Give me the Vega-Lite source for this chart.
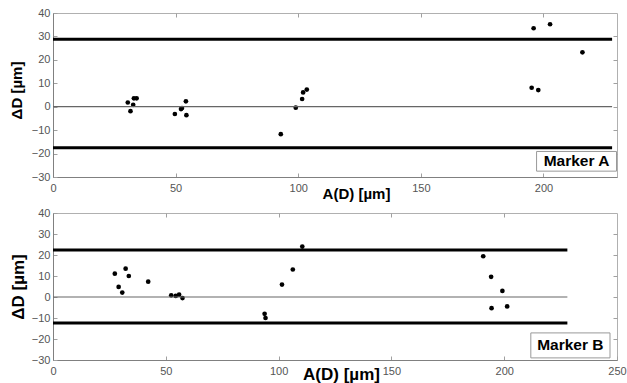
{
  "$schema": "https://vega.github.io/schema/vega-lite/v6.json",
  "background": "white",
  "padding": {"left": 8, "top": 6, "right": 0, "bottom": 0},
  "spacing": 36,
  "bounds": "flush",
  "config": {
    "view": {"stroke": "#b0b0b0", "strokeWidth": 1},
    "font": "Liberation Sans",
    "axis": {
      "labelFont": "Liberation Sans",
      "labelFontSize": 11,
      "labelColor": "#555555",
      "labelOverlap": false,
      "labelFlush": false,
      "domainColor": "#808080",
      "tickColor": "#a0a0a0",
      "tickSize": -4,
      "grid": false,
      "titleFont": "Liberation Sans",
      "titleFontSize": 15,
      "titleFontWeight": "bold",
      "titleColor": "#000000"
    },
    "axisX": {"labelPadding": 9},
    "axisY": {"labelPadding": 7}
  },
  "datasets": {
    "pts": [
      {"m": "A", "a": 30.5, "d": 1.8},
      {"m": "A", "a": 31.6, "d": -1.9},
      {"m": "A", "a": 32.7, "d": 0.8},
      {"m": "A", "a": 33.0, "d": 3.6},
      {"m": "A", "a": 34.1, "d": 3.6},
      {"m": "A", "a": 49.7, "d": -3.1},
      {"m": "A", "a": 52.2, "d": -1.0},
      {"m": "A", "a": 52.6, "d": -0.6},
      {"m": "A", "a": 54.2, "d": 2.3},
      {"m": "A", "a": 54.4, "d": -3.6},
      {"m": "A", "a": 92.9, "d": -11.7},
      {"m": "A", "a": 99.0, "d": -0.4},
      {"m": "A", "a": 101.6, "d": 3.3},
      {"m": "A", "a": 102.0, "d": 6.1},
      {"m": "A", "a": 103.5, "d": 7.3},
      {"m": "A", "a": 196.0, "d": 33.5},
      {"m": "A", "a": 202.7, "d": 35.2},
      {"m": "A", "a": 215.9, "d": 23.2},
      {"m": "A", "a": 195.2, "d": 8.1},
      {"m": "A", "a": 197.9, "d": 7.1},
      {"m": "B", "a": 27.4, "d": 11.1},
      {"m": "B", "a": 29.1, "d": 4.8},
      {"m": "B", "a": 30.7, "d": 2.1},
      {"m": "B", "a": 32.2, "d": 13.5},
      {"m": "B", "a": 33.6, "d": 10.0},
      {"m": "B", "a": 42.2, "d": 7.3},
      {"m": "B", "a": 52.4, "d": 0.8},
      {"m": "B", "a": 54.4, "d": 0.5},
      {"m": "B", "a": 55.9, "d": 1.1},
      {"m": "B", "a": 57.4, "d": -0.5},
      {"m": "B", "a": 93.8, "d": -8.0},
      {"m": "B", "a": 94.2, "d": -10.0},
      {"m": "B", "a": 101.5, "d": 5.9},
      {"m": "B", "a": 106.3, "d": 13.1},
      {"m": "B", "a": 110.5, "d": 24.0},
      {"m": "B", "a": 190.7, "d": 19.4},
      {"m": "B", "a": 194.2, "d": 9.6},
      {"m": "B", "a": 199.2, "d": 2.9},
      {"m": "B", "a": 194.4, "d": -5.3},
      {"m": "B", "a": 201.3, "d": -4.5}
    ],
    "lims": [
      {"m": "A", "a0": 0, "a1": 228, "d": 28.8, "k": "lim"},
      {"m": "A", "a0": 0, "a1": 228, "d": -17.5, "k": "lim"},
      {"m": "A", "a0": 0, "a1": 228, "d": 0, "k": "zero"},
      {"m": "B", "a0": 0, "a1": 228, "d": 22.4, "k": "lim"},
      {"m": "B", "a0": 0, "a1": 228, "d": -12.4, "k": "lim"},
      {"m": "B", "a0": 0, "a1": 228, "d": 0, "k": "zero"}
    ],
    "labels": [
      {"m": "A", "t": "Marker A"},
      {"m": "B", "t": "Marker B"}
    ]
  },
  "vconcat": [
    {
      "width": 564,
      "height": 164,
      "resolve": {"axis": {"x": "independent", "y": "independent"}},
      "layer": [
        {
          "data": {"name": "pts"},
          "transform": [{"filter": "datum.m === 'A'"}],
          "mark": {"type": "circle", "color": "#000000", "size": 22, "opacity": 1},
          "encoding": {
            "x": {"field": "a", "type": "quantitative", "scale": {"domain": [0, 230], "nice": false},
                  "axis": {"orient": "bottom", "title": "A(D) [µm]", "values": [0, 50, 100, 150, 200], "labelOverlap": false, "titlePadding": -7, "titleX": 303}},
            "y": {"field": "d", "type": "quantitative", "scale": {"domain": [-30, 40], "nice": false},
                  "axis": {"orient": "left", "title": "ΔD [µm]", "values": [-30, -20, -10, 0, 10, 20, 30, 40], "labelOverlap": false, "titlePadding": 7, "titleY": 77}}
          }
        },
        {
          "data": {"name": "lims"},
          "transform": [{"filter": "datum.m === 'A' && datum.k === 'zero'"}],
          "mark": {"type": "rule", "color": "#666666", "strokeWidth": 1.2},
          "encoding": {
            "x": {"field": "a0", "type": "quantitative",
                  "axis": {"orient": "top", "labels": false, "title": null, "domain": false, "values": [50, 100, 150, 200]}},
            "x2": {"field": "a1"},
            "y": {"field": "d", "type": "quantitative",
                  "axis": {"orient": "right", "labels": false, "title": null, "domain": false, "values": [-20, -10, 0, 10, 20, 30]}}
          }
        },
        {
          "data": {"name": "lims"},
          "transform": [{"filter": "datum.m === 'A' && datum.k === 'lim'"}],
          "mark": {"type": "rule", "color": "#000000", "strokeWidth": 3},
          "encoding": {
            "x": {"field": "a0", "type": "quantitative", "axis": null},
            "x2": {"field": "a1"},
            "y": {"field": "d", "type": "quantitative", "axis": null}
          }
        },
        {
          "data": {"name": "labels"},
          "transform": [{"filter": "datum.m === 'A'"}],
          "mark": {"type": "rect", "fill": "white", "stroke": "#999999", "strokeWidth": 1},
          "encoding": {
            "x": {"datum": 197.2, "type": "quantitative", "axis": null},
            "x2": {"datum": 229.8},
            "y": {"datum": -19.1, "type": "quantitative", "axis": null},
            "y2": {"datum": -27.5}
          }
        },
        {
          "data": {"name": "labels"},
          "transform": [{"filter": "datum.m === 'A'"}],
          "mark": {"type": "text", "font": "Liberation Sans", "fontSize": 15.5, "fontWeight": "bold", "color": "#000000", "baseline": "middle", "align": "center"},
          "encoding": {
            "x": {"datum": 213.5, "type": "quantitative", "axis": null},
            "y": {"datum": -23.3, "type": "quantitative", "axis": null},
            "text": {"field": "t"}
          }
        }
      ]
    },
    {
      "width": 564,
      "height": 147,
      "resolve": {"axis": {"x": "independent", "y": "independent"}},
      "layer": [
        {
          "data": {"name": "pts"},
          "transform": [{"filter": "datum.m === 'B'"}],
          "mark": {"type": "circle", "color": "#000000", "size": 22, "opacity": 1},
          "encoding": {
            "x": {"field": "a", "type": "quantitative", "scale": {"domain": [0, 250], "nice": false},
                  "axis": {"orient": "bottom", "title": "A(D) [µm]", "titleFontSize": 17, "values": [0, 50, 100, 150, 200, 250], "labelOverlap": false, "titlePadding": -10, "titleX": 288}},
            "y": {"field": "d", "type": "quantitative", "scale": {"domain": [-30, 40], "nice": false},
                  "axis": {"orient": "left", "title": "ΔD [µm]", "titleFontSize": 17, "values": [-30, -20, -10, 0, 10, 20, 30, 40], "labelOverlap": false, "titlePadding": 4}}
          }
        },
        {
          "data": {"name": "lims"},
          "transform": [{"filter": "datum.m === 'B' && datum.k === 'zero'"}],
          "mark": {"type": "rule", "color": "#666666", "strokeWidth": 1.2},
          "encoding": {
            "x": {"field": "a0", "type": "quantitative",
                  "axis": {"orient": "top", "labels": false, "title": null, "domain": false, "values": [50, 100, 150, 200]}},
            "x2": {"field": "a1"},
            "y": {"field": "d", "type": "quantitative",
                  "axis": {"orient": "right", "labels": false, "title": null, "domain": false, "values": [-20, -10, 0, 10, 20, 30]}}
          }
        },
        {
          "data": {"name": "lims"},
          "transform": [{"filter": "datum.m === 'B' && datum.k === 'lim'"}],
          "mark": {"type": "rule", "color": "#000000", "strokeWidth": 3},
          "encoding": {
            "x": {"field": "a0", "type": "quantitative", "axis": null},
            "x2": {"field": "a1"},
            "y": {"field": "d", "type": "quantitative", "axis": null}
          }
        },
        {
          "data": {"name": "labels"},
          "transform": [{"filter": "datum.m === 'B'"}],
          "mark": {"type": "rect", "fill": "white", "stroke": "#999999", "strokeWidth": 1},
          "encoding": {
            "x": {"datum": 211.8, "type": "quantitative", "axis": null},
            "x2": {"datum": 246.9},
            "y": {"datum": -17.1, "type": "quantitative", "axis": null},
            "y2": {"datum": -29.0}
          }
        },
        {
          "data": {"name": "labels"},
          "transform": [{"filter": "datum.m === 'B'"}],
          "mark": {"type": "text", "font": "Liberation Sans", "fontSize": 15.5, "fontWeight": "bold", "color": "#000000", "baseline": "middle", "align": "center"},
          "encoding": {
            "x": {"datum": 229.3, "type": "quantitative", "axis": null},
            "y": {"datum": -23.0, "type": "quantitative", "axis": null},
            "text": {"field": "t"}
          }
        }
      ]
    }
  ]
}
